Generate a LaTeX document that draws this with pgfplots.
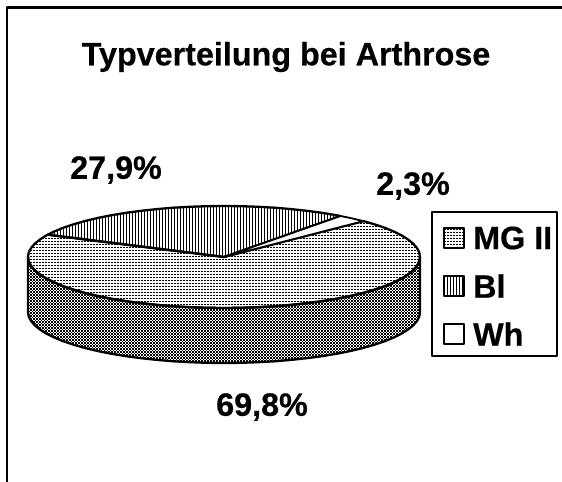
\documentclass[border=0pt]{standalone}
\usepackage{pgfplots}
\pgfplotsset{compat=1.18}
\usepackage{fontspec}
\setmainfont[BoldFeatures={FakeBold=0.5}]{Liberation Sans}
\usetikzlibrary{patterns}
\pgfdeclarepatternformonly{mgtop}{\pgfqpoint{-.1bp}{-.1bp}}{\pgfqpoint{3.1bp}{3.1bp}}{\pgfqpoint{3bp}{3bp}}{%
  \pgfpathrectangle{\pgfqpoint{0bp}{0bp}}{\pgfqpoint{1.5bp}{1.3bp}}\pgfusepath{fill}}
\pgfdeclarepatternformonly{mgside}{\pgfqpoint{-.1bp}{-.1bp}}{\pgfqpoint{3.1bp}{3.1bp}}{\pgfqpoint{3bp}{3bp}}{%
  \pgfpathrectangle{\pgfqpoint{0bp}{0bp}}{\pgfqpoint{1.8bp}{1.6bp}}\pgfusepath{fill}
  \pgfpathrectangle{\pgfqpoint{1.5bp}{1.5bp}}{\pgfqpoint{1.5bp}{1.5bp}}\pgfusepath{fill}}
\pgfdeclarepatternformonly{bistripe}{\pgfqpoint{-.1bp}{-.1bp}}{\pgfqpoint{3.1bp}{3.1bp}}{\pgfqpoint{3bp}{3bp}}{%
  \pgfpathrectangle{\pgfqpoint{0bp}{-.1bp}}{\pgfqpoint{1.4bp}{3.2bp}}\pgfusepath{fill}}
\begin{document}
\begin{tikzpicture}
\begin{axis}[
  hide axis, scale only axis, x=1bp, y=1bp, y dir=reverse,
  xmin=0, xmax=562, ymin=0, ymax=482, clip=true,
  every axis plot/.append style={line join=round, black, line width=2.3bp}]
% chart frame: left and top only
\addplot[no marks, line width=2.6bp] coordinates {(7,482) (7,7.3) (562,7.3)};
% rim of the pie
\addplot[no marks, pattern=mgside, pattern color=black, draw=black] coordinates {
(28,257)(28.7,261.4)(31,265.9)(34.7,270.2)(39.8,274.4)(46.4,278.6)(54.3,282.5)(63.4,286.3)(73.9,289.8)(85.4,293.1)(98,296.1)(111.6,298.8)(126,301.2)(141.2,303.2)(157,304.9)(173.3,306.3)(190,307.2)(206.9,307.8)(224,308)
(241.1,307.8)(258,307.2)(274.7,306.3)(291,304.9)(306.8,303.2)(322,301.2)(336.4,298.8)(350,296.1)(362.6,293.1)(374.1,289.8)(384.6,286.3)(393.7,282.5)(401.6,278.6)(408.2,274.4)(413.3,270.2)(417,265.9)(419.3,261.4)(420,257)
(420,312)(419.3,316.4)(417,320.9)(413.3,325.2)(408.2,329.4)(401.6,333.6)(393.7,337.5)(384.6,341.3)(374.1,344.8)(362.6,348.1)(350,351.1)(336.4,353.8)(322,356.2)(306.8,358.2)(291,359.9)(274.7,361.3)(258,362.2)(241.1,362.8)(224,363)
(206.9,362.8)(190,362.2)(173.3,361.3)(157,359.9)(141.2,358.2)(126,356.2)(111.6,353.8)(98,351.1)(85.4,348.1)(73.9,344.8)(63.4,341.3)(54.3,337.5)(46.4,333.6)(39.8,329.4)(34.7,325.2)(31,320.9)(28.7,316.4)(28,312) (28,257)} -- cycle;
% MG II 69,8 %
\addplot[no marks, pattern=mgtop, pattern color=black, draw=black] coordinates {
(224,257)(363.4,221.1)(374.1,224.2)(384.6,227.7)(393.7,231.5)(401.6,235.4)(408.2,239.6)(413.3,243.8)(417,248.1)(419.3,252.6)(420,257)
(419.3,261.4)(417,265.9)(413.3,270.2)(408.2,274.4)(401.6,278.6)(393.7,282.5)(384.6,286.3)(374.1,289.8)(362.6,293.1)(350,296.1)(336.4,298.8)(322,301.2)(306.8,303.2)(291,304.9)(274.7,306.3)(258,307.2)(241.1,307.8)(224,308)
(206.9,307.8)(190,307.2)(173.3,306.3)(157,304.9)(141.2,303.2)(126,301.2)(111.6,298.8)(98,296.1)(85.4,293.1)(73.9,289.8)(63.4,286.3)(54.3,282.5)(46.4,278.6)(39.8,274.4)(34.7,270.2)(31,265.9)(28.7,261.4)(28,257)
(28.7,252.6)(31,248.1)(34.7,243.8)(39.8,239.6)(46.4,235.4)(47.7,234.7)(224,257)} -- cycle;
% BI 27,9 %
\addplot[no marks, pattern=bistripe, pattern color=black, draw=black] coordinates {
(224,257)(47.7,234.7)(54.3,231.5)(63.4,227.7)(73.9,224.2)(85.4,220.9)(98,217.9)(111.6,215.2)(126,212.8)(141.2,210.8)(157,209.1)(173.3,207.7)(190,206.8)(206.9,206.2)(224,206)
(241.1,206.2)(258,206.8)(274.7,207.7)(291,209.1)(306.8,210.8)(322,212.8)(336.4,215.2)(340.6,216)(224,257)} -- cycle;
% Wh 2,3 %
\addplot[no marks, fill=white, draw=black, line width=1.8bp] coordinates {
(224,257)(340.6,216)(350,217.9)(362.6,220.9)(363.4,221.1)(224,257)} -- cycle;
% legend box
\addplot[no marks, fill=white, draw=black, line width=2.2bp] coordinates {(432,212)(557,212)(557,356)(432,356)(432,212)} -- cycle;
\addplot[no marks, pattern=mgtop, pattern color=black, draw=black, line width=1.6bp] coordinates {(444,228)(464,228)(464,248)(444,248)(444,228)} -- cycle;
\addplot[no marks, pattern=bistripe, pattern color=black, draw=black, line width=1.6bp] coordinates {(444,276)(464,276)(464,296)(444,296)(444,276)} -- cycle;
\addplot[no marks, fill=white, draw=black, line width=1.6bp] coordinates {(444,324)(464,324)(464,344)(444,344)(444,324)} -- cycle;
\node[font=\fontsize{32.3bp}{34bp}\selectfont\bfseries] at (axis cs:286,57) {Typverteilung bei Arthrose};
\node[font=\fontsize{32.3bp}{34bp}\selectfont\bfseries] at (axis cs:116,170) {27,9\%};
\node[font=\fontsize{32.3bp}{34bp}\selectfont\bfseries] at (axis cs:413,186) {2,3\%};
\node[font=\fontsize{32.3bp}{34bp}\selectfont\bfseries] at (axis cs:262,407) {69,8\%};
\node[anchor=west, inner sep=0pt, font=\fontsize{32.3bp}{34bp}\selectfont\bfseries] at (axis cs:473,238) {MG II};
\node[anchor=west, inner sep=0pt, font=\fontsize{32.3bp}{34bp}\selectfont\bfseries] at (axis cs:473,286) {Bl};
\node[anchor=west, inner sep=0pt, font=\fontsize{32.3bp}{34bp}\selectfont\bfseries] at (axis cs:473,334) {Wh};
\end{axis}
\path[use as bounding box] (current axis.south west) rectangle (current axis.north east);
\end{tikzpicture}
\end{document}
